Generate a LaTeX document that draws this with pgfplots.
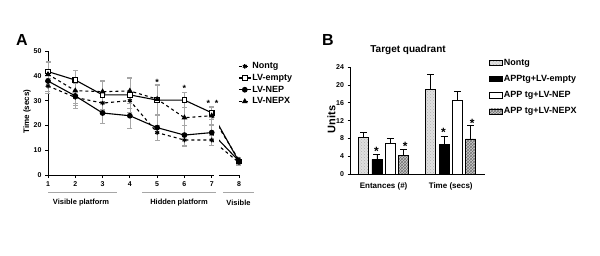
\documentclass[border=0pt]{standalone}
\usepackage{fontspec}
\setmainfont{Liberation Sans}
\usepackage{pgfplots}
\pgfplotsset{compat=1.18}
\usetikzlibrary{patterns}
\begin{document}
\begin{tikzpicture}[x=1pt,y=1pt]
\path (0pt,0pt) rectangle (600pt,255pt);
\tikzset{starA/.style={font=\bfseries\fontsize{9}{9}\selectfont, anchor=base, yshift=-5.2pt, inner sep=0pt},
starB/.style={font=\bfseries\fontsize{12}{12}\selectfont, anchor=base, yshift=-6.9pt, inner sep=0pt}}
% ---------- Panel A ----------
\begin{axis}[at={(48pt,80pt)}, anchor=south west, scale only axis,
  width=191pt, height=124pt, xmin=1, xmax=8, ymin=0, ymax=50,
  axis x line=bottom, axis y line=left,
  x axis line style={draw=none}, y axis line style={-, line width=1pt},
  xtick={1,...,8}, ytick={0,10,...,50},
  tick align=outside, major tick length=3pt,
  tick style={black, line width=0.8pt},
  /pgf/number format/assume math mode=true,
  tick label style={font=\bfseries\fontsize{7}{8}\selectfont},
  ylabel={Time (secs)},
  ylabel style={font=\bfseries\fontsize{8}{9}\selectfont, at={(axis description cs:-0.11,0.51)}, anchor=center},
  clip=false, unbounded coords=jump,
  error bars/y dir=both, error bars/y explicit,
  error bars/error bar style={gray!70, line width=0.6pt, solid},
  error bars/error mark options={rotate=90, mark size=2.5pt, gray!70, line width=0.6pt, solid},
  every axis plot/.append style={line width=1.1pt, black, mark size=2.3pt},
  legend image code/.code={\draw[mark repeat=2,mark phase=2,#1] plot coordinates {(0pt,0pt) (6pt,0pt) (12pt,0pt)};},
  legend style={at={(0.995,0.925)}, anchor=north west, draw=none, fill=none,
    font=\bfseries\fontsize{9}{10}\selectfont, row sep=0pt, inner sep=0pt,
    nodes={inner xsep=1pt}},
  legend cell align=left,
]
\addplot[dashed, mark=asterisk, mark options={solid}] coordinates {
 (1,35.9) +- (0,3) (2,31.3) +- (0,3) (3,29) +- (0,3) (4,30) +- (0,3)
 (5,17.1) +- (0,3) (6,14.1) +- (0,2.5) (7,14.1) +- (0,2) (7.5,nan) (8,5) +- (0,1)};
\addlegendentry{Nontg}
\addplot[solid, mark=square*, mark options={fill=white}] coordinates {
 (1,41.7) +- (0,4) (2,38.3) +- (0,4) (3,32.3) +- (0,6) (4,32.3) +- (0,7)
 (5,30.2) +- (0,6) (6,30.2) +- (0,3) (7,25.1) +- (0,2.5) (7.5,nan) (8,5.4) +- (0,1)};
\addlegendentry{LV-empty}
\addplot[solid, mark=*] coordinates {
 (1,37.9) +- (0,4) (2,31.9) +- (0,5) (3,25) +- (0,4) (4,23.9) +- (0,5)
 (5,19.1) +- (0,5) (6,16.1) +- (0,4) (7,17.1) +- (0,3) (7.5,nan) (8,5.6) +- (0,1)};
\addlegendentry{LV-NEP}
\addplot[dashed, mark=triangle*, mark options={solid}] coordinates {
 (1,40.6) +- (0,5) (2,34) +- (0,5) (3,33.6) +- (0,4) (4,33.9) +- (0,5)
 (5,30.6) +- (0,6) (6,23.1) +- (0,7) (7,23.9) +- (0,3.5) (7.5,nan) (8,6) +- (0,1)};
\addlegendentry{LV-NEPX}
% connectors 7 -> 8 across the axis break
\addplot[forget plot, dashed, no marks, error bars/y dir=none] coordinates {(7,14.1) (8,5)};
\addplot[forget plot, solid, no marks, error bars/y dir=none] coordinates {(7,25.1) (8,5.4)};
\addplot[forget plot, solid, no marks, error bars/y dir=none] coordinates {(7,17.1) (8,5.6)};
\addplot[forget plot, dashed, no marks, error bars/y dir=none] coordinates {(7,23.9) (8,6)};
\fill[white] (axis cs:7.10,1) rectangle (axis cs:7.25,26.8);
% broken x axis line
\draw[line width=1pt] (axis cs:1,0) -- (axis cs:7.1,0);
\draw[line width=1pt] (axis cs:7.28,0) -- (axis cs:8,0);
% significance stars
\node[starA] at (axis cs:5,38.3) {*};
\node[starA] at (axis cs:6,35.6) {*};
\node[starA] at (axis cs:6.88,29.8) {*};
\node[starA] at (axis cs:7.18,29.8) {*};
\end{axis}
% session groups
\draw[gray!70, line width=1.5pt] (48pt,62.3pt) -- (117pt,62.3pt);
\draw[gray!70, line width=1.5pt] (142pt,62.3pt) -- (216pt,62.3pt);
\draw[gray!70, line width=1.5pt] (223pt,62.3pt) -- (254pt,62.3pt);
\node[font=\bfseries\fontsize{7.5}{8}\selectfont] at (81pt,52.3pt) {Visible platform};
\node[font=\bfseries\fontsize{7.5}{8}\selectfont] at (179pt,52.3pt) {Hidden platform};
\node[font=\bfseries\fontsize{7.5}{8}\selectfont] at (238.5pt,52.3pt) {Visible};
\node[font=\bfseries\fontsize{16}{16}\selectfont] at (22pt,215pt) {A};
\node[font=\bfseries\fontsize{16}{16}\selectfont] at (328pt,215pt) {B};
% ---------- Panel B ----------
\begin{axis}[at={(350pt,81pt)}, anchor=south west, scale only axis,
  width=135pt, height=106.7pt, xmin=0.499, xmax=2.511, ymin=0, ymax=24,
  axis x line=bottom, axis y line=left, axis line style={-, line width=1pt},
  xtick={1,2}, xticklabels={Entances (\#), Time (secs)},
  x tick style={draw=none},
  ytick={0,4,...,24},
  tick align=outside, major tick length=2.5pt,
  y tick style={black, line width=0.8pt},
  /pgf/number format/assume math mode=true,
  yticklabel style={font=\bfseries\fontsize{7}{8}\selectfont},
  xticklabel style={font=\bfseries\fontsize{8}{9}\selectfont, yshift=-3pt},
  ybar=3.3pt, bar width=10pt,
  title={Target quadrant},
  title style={font=\bfseries\fontsize{10}{11}\selectfont, at={(axis description cs:0.43,1)}, anchor=south, yshift=3pt},
  ylabel={Units},
  ylabel style={font=\bfseries\fontsize{11}{12}\selectfont, at={(axis description cs:-0.137,0.51)}, anchor=center},
  clip=false,
  error bars/y dir=plus, error bars/y explicit,
  error bars/error bar style={black, line width=0.8pt},
  error bars/error mark options={rotate=90, mark size=3.5pt, black, line width=0.8pt},
  legend image code/.code={\draw[#1] (0pt,-2.6pt) rectangle (13pt,2.6pt);},
  legend style={at={(1.03,1.097)}, anchor=north west, draw=none, fill=none,
    font=\bfseries\fontsize{9}{10}\selectfont, row sep=4.5pt, inner sep=0pt,
    nodes={inner xsep=1pt}},
  legend cell align=left,
]
\addplot[draw=black, line width=0.7pt, fill=gray!25, postaction={pattern=crosshatch dots, pattern color=gray!60}] coordinates {(1,8.15) +- (0,1.25) (2,19.05) +- (0,3.25)};
\addlegendentry{Nontg}
\addplot[draw=black, line width=0.7pt, fill=black] coordinates {(1,3.3) +- (0,1.1) (2,6.7) +- (0,1.8)};
\addlegendentry{APPtg+LV-empty}
\addplot[draw=black, line width=0.7pt, fill=white] coordinates {(1,7.0) +- (0,1.0) (2,16.5) +- (0,2.0)};
\addlegendentry{APP tg+LV-NEP}
\addplot[draw=black, line width=0.7pt, fill=gray!40, postaction={pattern=crosshatch, pattern color=gray!90!black}] coordinates {(1,4.1) +- (0,1.45) (2,7.9) +- (0,3.0)};
\addlegendentry{APP tg+LV-NEPX}
\node[starB] at (axis cs:0.893,5.7) {*};
\node[starB] at (axis cs:1.32,6.9) {*};
\node[starB] at (axis cs:1.893,9.9) {*};
\node[starB] at (axis cs:2.32,12.1) {*};
\end{axis}
\end{tikzpicture}
\end{document}
